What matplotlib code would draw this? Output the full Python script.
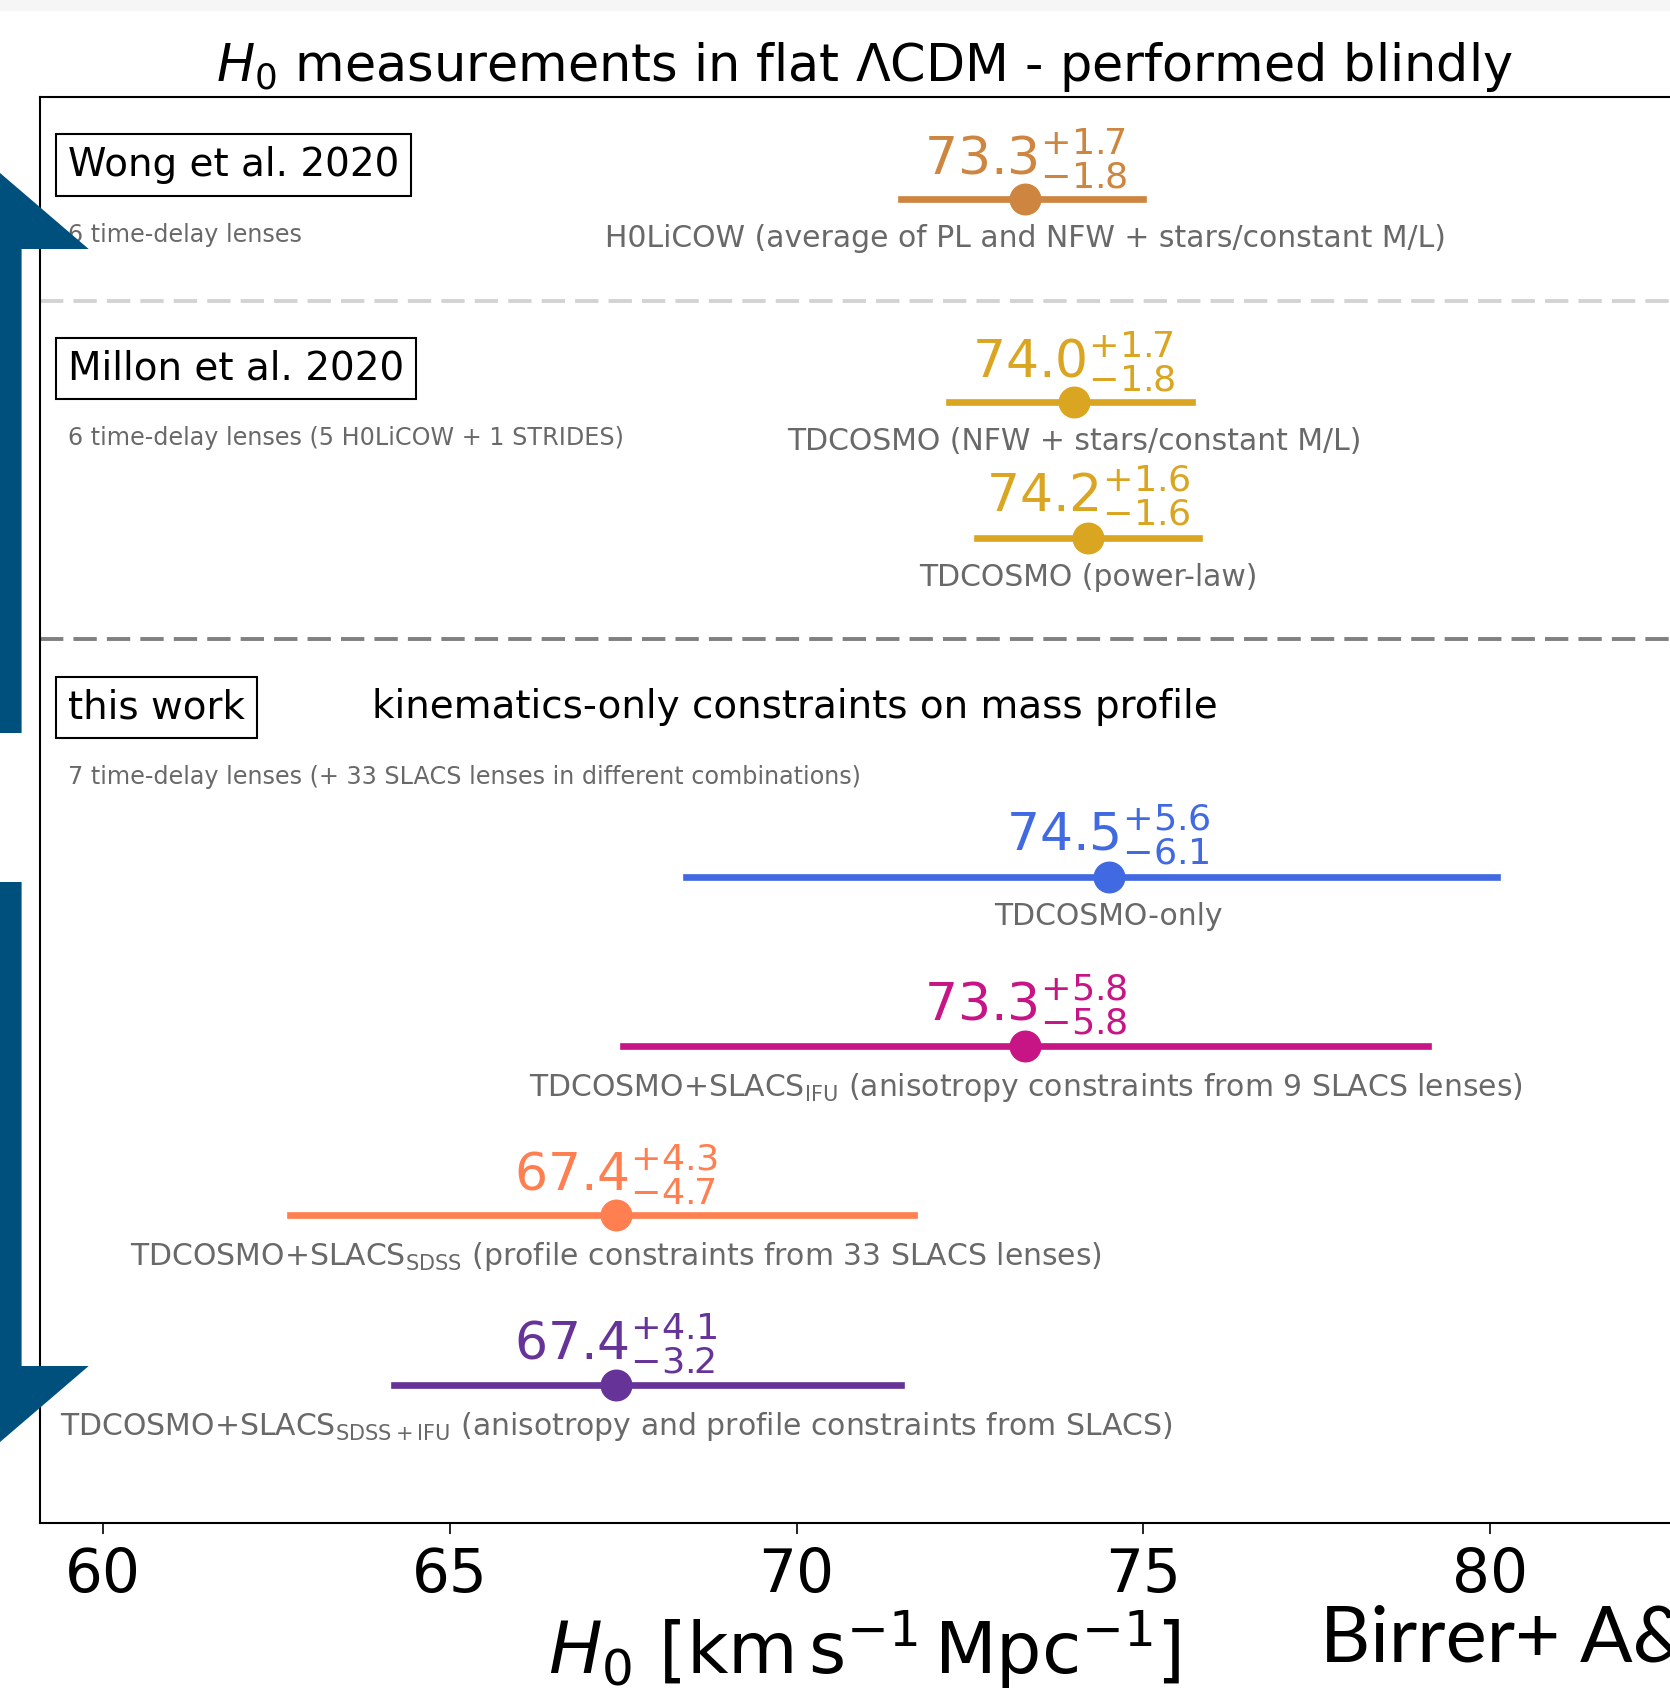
import matplotlib
matplotlib.use("Agg")
import matplotlib.pyplot as plt
from matplotlib.patches import Polygon, Rectangle

# ---------------- data ----------------
h0_values = [73.3, 74.0, 74.2, 74.5, 73.3, 67.4, 67.4]
err_upper = [1.7, 1.7, 1.6, 5.6, 5.8, 4.3, 4.1]
err_lower = [1.8, 1.8, 1.6, 6.1, 5.8, 4.7, 3.2]
row_labels = [
    "H0LiCOW (average of PL and NFW + stars/constant M/L)",
    "TDCOSMO (NFW + stars/constant M/L)",
    "TDCOSMO (power-law)",
    "TDCOSMO-only",
    r"TDCOSMO+SLACS$_{\rm IFU}$ (anisotropy constraints from 9 SLACS lenses)",
    r"TDCOSMO+SLACS$_{\rm SDSS}$ (profile constraints from 33 SLACS lenses)",
    r"TDCOSMO+SLACS$_{\rm SDSS+IFU}$ (anisotropy and profile constraints from SLACS)",
]
row_colors = ["peru", "goldenrod", "goldenrod", "royalblue",
              "mediumvioletred", "coral", "rebeccapurple"]
row_y = [0.6, 1.8, 2.6, 4.6, 5.6, 6.6, 7.6]

group_titles = ["Wong et al. 2020", "Millon et al. 2020", "this work"]
group_notes = ["6 time-delay lenses",
               "6 time-delay lenses (5 H0LiCOW + 1 STRIDES)",
               "7 time-delay lenses (+ 33 SLACS lenses in different combinations)"]
group_top = [0.0, 1.2, 3.2]
separator_y = [1.2, 3.2]
separator_colors = ["lightgray", "gray"]
xticks = [60, 65, 70, 75, 80]

# ---------------- figure ----------------
W, H = 1670, 1697
fig = plt.figure(figsize=(W / 100, H / 100), dpi=100)
fig.patch.set_facecolor("white")
fig.patches.append(Rectangle((0, 1 - 11 / H), 1, 11 / H, transform=fig.transFigure,
                             facecolor="#f6f6f6", edgecolor="none"))

ax_left, ax_right, ax_top, ax_bot = 40, 1688, 97.4, 1522.8
ax = fig.add_axes([ax_left / W, 1 - ax_bot / H, (ax_right - ax_left) / W, (ax_bot - ax_top) / H])
ax.set_xlim(59.095, 82.85)
ax.set_ylim(8.415, 0)

for spine in ax.spines.values():
    spine.set_linewidth(1.5)

for i, (v, up, lo, lab, c, y) in enumerate(zip(h0_values, err_upper, err_lower,
                                                 row_labels, row_colors, row_y)):
    eb = ax.errorbar([v], [y], xerr=[[lo], [up]], fmt="o", color=c, ms=22,
                     elinewidth=4.8, capsize=0, zorder=3)
    for col in eb[2]:
        col.set_capstyle("projecting")
    ax.annotate(r"$%.1f^{+%.1f}_{-%.1f}$" % (v, up, lo), (v, y), xytext=(0, 6),
                textcoords="offset points", ha="center", va="bottom",
                fontsize=37.5, color=c)
    ax.annotate(lab, (v, y), xytext=(0, -18), textcoords="offset points",
                ha="center", va="top", fontsize=21.5, color="dimgray")

for t, note, top in zip(group_titles, group_notes, group_top):
    ax.text(59.5, top + 0.40, t, fontsize=28, ha="left", va="center",
            bbox=dict(boxstyle="square,pad=0.3", facecolor="white",
                      edgecolor="black", linewidth=1.5))
    ax.text(59.5, top + 0.81, note, fontsize=17.2, ha="left", va="center",
            color="dimgray")

ax.text(63.88, 3.60, "kinematics-only constraints on mass profile",
        fontsize=28, ha="left", va="center")

for sy, sc in zip(separator_y, separator_colors):
    ax.axhline(sy, color=sc, lw=2.8, ls=(0, (6, 2.6)))

ax.set_yticks([])
ax.set_xticks(xticks)
ax.tick_params(axis="x", labelsize=43, length=8, width=1.2, pad=9)
ax.set_xlabel(r"$H_0$ $[\mathrm{km\,s^{-1}\,Mpc^{-1}}]$", fontsize=51.5, labelpad=2)
ax.set_title(r"$H_0$ measurements in flat $\Lambda$CDM - performed blindly",
             fontsize=36.6, pad=12)

fig.text(1320 / W, 1 - 1661 / H, "Birrer+ A&A 2020", fontsize=56,
         family=["Lato", "DejaVu Sans"], ha="left", va="baseline")

# slide arrows (pixel coordinates converted to figure fraction)
def px(pts):
    return [(x / W, 1 - y / H) for x, y in pts]

arrow_color = "#00507e"
cx, sl, sr, hw = -19.2, -60.0, 21.6, 107.9
up_arrow = [(sl, 733), (sr, 733), (sr, 249), (cx + hw, 249), (cx, 156.5),
            (cx - hw, 249), (sl, 249)]
down_arrow = [(sl, 882), (sr, 882), (sr, 1366), (cx + hw, 1366), (cx, 1458.5),
              (cx - hw, 1366), (sl, 1366)]
for pts in (up_arrow, down_arrow):
    fig.patches.append(Polygon(px(pts), closed=True, transform=fig.transFigure,
                               facecolor=arrow_color, edgecolor="none", zorder=10))

fig.savefig("out.png", dpi=100)
